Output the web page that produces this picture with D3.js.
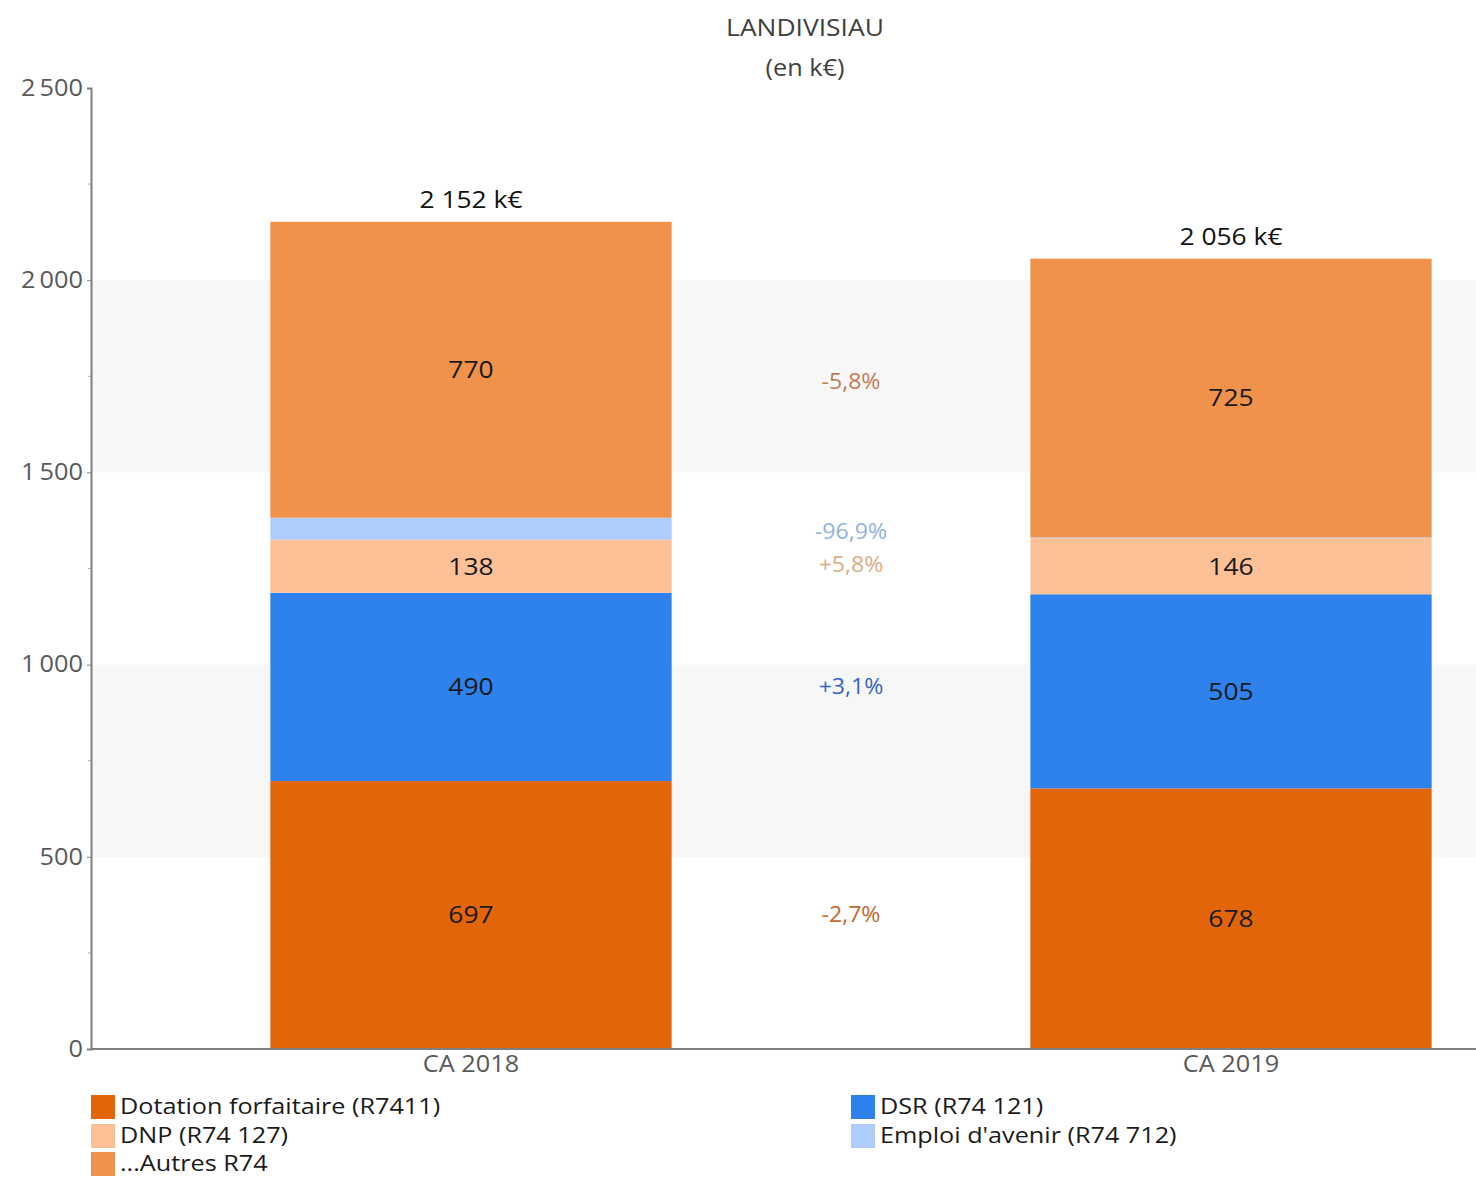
<!DOCTYPE html>
<html><head><meta charset="utf-8">
<script src="https://cdn.jsdelivr.net/npm/d3@7"></script>
<style>body{margin:0;background:#fff}svg{display:block}text{font-family:"Open Sans",sans-serif}</style>
</head><body><svg id="c" width="1476" height="1178"></svg>
<script>
const categories = ["CA 2018", "CA 2019"];
const seriesNames = ["Dotation forfaitaire (R7411)", "DSR (R74 121)", "DNP (R74 127)", "Emploi d'avenir (R74 712)", "...Autres R74"];
const dotation = [697, 678];
const dsr = [490, 505];
const dnp = [138, 146];
const emploi = [57, 2];
const autres = [770, 725];
const totals = ["2 152 k€", "2 056 k€"];
const variations = ["-2,7%", "+3,1%", "+5,8%", "-96,9%", "-5,8%"];
const yTicks = [0, 500, 1000, 1500, 2000, 2500];
const colors = ["#e36509", "#2f82ec", "#fcc096", "#aecdfa", "#f0924b"];
const varColors = ["#c3692e", "#3466c0", "#dcae88", "#93b2d8", "#c27d55"];
const showLabel = [true, true, true, false, true];

(function(){
const FONT = "'Open Sans', sans-serif";
const svg = d3.select("#c");
const x0 = 91, xEnd = 1476, yTop = 88, yBot = 1049;
const y = d3.scaleLinear().domain([0, 2500]).range([yBot, yTop]);
const x = d3.scaleBand().domain(categories).range([x0, x0 + 2 * 760]).paddingInner(0.472).paddingOuter(0.236);

[[500, 1000], [1500, 2000]].forEach(b => {
  svg.append("rect").attr("x", x0).attr("width", xEnd - x0)
    .attr("y", y(b[1])).attr("height", y(b[0]) - y(b[1])).attr("fill", "#f7f7f7");
});

const series = [dotation, dsr, dnp, emploi, autres];
const rows = categories.map((c, i) => {
  const o = {cat: c};
  seriesNames.forEach((s, k) => o[s] = series[k][i]);
  return o;
});
const stack = d3.stack().keys(seriesNames)(rows);

stack.forEach((layer, k) => {
  svg.selectAll(null).data(layer).enter().append("rect")
    .attr("x", d => x(d.data.cat)).attr("width", x.bandwidth())
    .attr("y", d => y(d[1])).attr("height", d => y(d[0]) - y(d[1]))
    .attr("fill", colors[k]);
  if (showLabel[k]) {
    svg.selectAll(null).data(layer).enter().append("text")
      .attr("x", d => x(d.data.cat) + x.bandwidth() / 2)
      .attr("y", d => y((d[0] + d[1]) / 2))
      .attr("dy", "0.35em").attr("text-anchor", "middle")
      .attr("font-size", 24).attr("fill", "#1a1a1a")
      .text(d => d[1] - d[0]);
  }
  const mid = d3.mean(layer, d => y((d[0] + d[1]) / 2));
  svg.append("text").attr("x", (x(categories[0]) + x(categories[1]) + x.bandwidth()) / 2)
    .attr("y", mid - 2).attr("dy", "0.35em").attr("text-anchor", "middle")
    .attr("font-size", 21).attr("fill", varColors[k]).text(variations[k]);
});

const topLayer = stack[stack.length - 1];
svg.selectAll(null).data(topLayer).enter().append("text")
  .attr("x", d => x(d.data.cat) + x.bandwidth() / 2)
  .attr("y", d => y(d[1]) - 22).attr("dy", "0.35em")
  .attr("text-anchor", "middle").attr("font-size", 24).attr("fill", "#111")
  .text((d, i) => totals[i]);

const yAxis = svg.append("g").attr("transform", `translate(${x0},0)`)
  .call(d3.axisLeft(y).tickValues(yTicks).tickSize(4).tickPadding(4)
    .tickFormat(d => d3.format(",")(d).replace(/,/g, "\u2009")));
yAxis.select(".domain").attr("stroke", "#7f7f7f").attr("stroke-width", 2);
yAxis.selectAll(".tick line").attr("stroke", "#7f7f7f");
yAxis.selectAll(".tick text").attr("font-size", 23).attr("fill", "#595959")
  .attr("font-family", FONT);
svg.append("g").selectAll("line").data(d3.range(250, 2500, 500)).enter().append("line")
  .attr("x1", x0 - 3).attr("x2", x0).attr("y1", d => y(d)).attr("y2", d => y(d))
  .attr("stroke", "#aaa");

const xAxis = svg.append("g").attr("transform", `translate(0,${yBot})`)
  .call(d3.axisBottom(x).tickSize(0).tickPadding(3));
xAxis.select(".domain").remove();
xAxis.selectAll(".tick text").attr("font-size", 23).attr("fill", "#595959")
  .attr("font-family", FONT).attr("dy", "0.85em");
svg.append("line").attr("x1", x0).attr("x2", xEnd).attr("y1", yBot).attr("y2", yBot)
  .attr("stroke", "#7f7f7f").attr("stroke-width", 2);

svg.append("text").attr("x", 805).attr("y", 36).attr("text-anchor", "middle")
  .attr("font-size", 24).attr("fill", "#404040").text("LANDIVISIAU");
svg.append("text").attr("x", 805).attr("y", 76).attr("text-anchor", "middle")
  .attr("font-size", 23).attr("fill", "#404040").text("(en k€)");

svg.selectAll("text").each(function() {
  const w = this.getComputedTextLength();
  d3.select(this).attr("textLength", w * 1.1).attr("lengthAdjust", "spacingAndGlyphs");
});

const legendPos = [[91, 1107], [851, 1107], [91, 1136], [851, 1136], [91, 1164]];
seriesNames.forEach((name, k) => {
  const [lx, ly] = legendPos[k];
  svg.append("rect").attr("x", lx).attr("y", ly - 12).attr("width", 24).attr("height", 24).attr("fill", colors[k]);
  const t = svg.append("text").attr("x", lx + 29).attr("y", ly).attr("dy", "0.35em")
    .attr("font-size", 21).attr("fill", "#1a1a1a").text(name);
  const w = t.node().getComputedTextLength();
  t.attr("textLength", w * 1.2).attr("lengthAdjust", "spacingAndGlyphs");
});
})();
</script></body></html>
